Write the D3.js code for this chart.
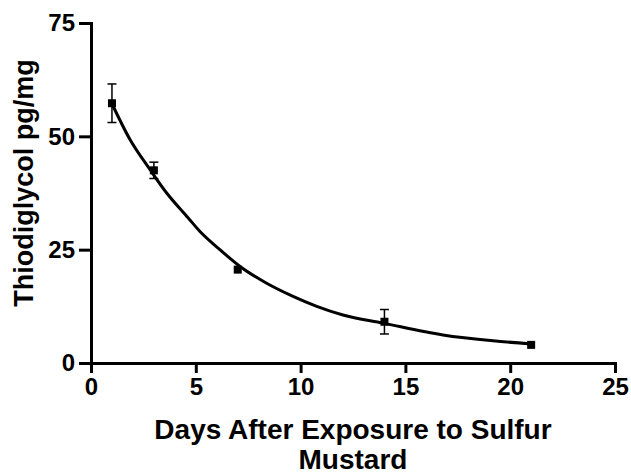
<!DOCTYPE html>
<html>
<head>
<meta charset="utf-8">
<script src="https://cdn.jsdelivr.net/npm/d3@7"></script>
<style>
  body { margin: 0; background: #fff; }
  svg text { font-family: "Liberation Sans", Arial, sans-serif; font-weight: bold; fill: #000; }
</style>
</head>
<body>
<div class="chart"></div>
<script>
// measured points (mean, sem)
let days = [1, 3, 7, 14, 21];
let means = [57.3, 42.5, 20.6, 9.1, 4.0];
let sems = [4.25, 1.8, 0.5, 2.7, 0];

// fitted decay curve
let fitX = [1, 1.86, 2.81, 3.61, 4.64, 5.2, 6.15, 7.11, 8.38, 9.64, 10.77, 12.02, 13.93, 16.79, 19.18, 21];
let fitY = [57.2, 49.3, 42.7, 37.5, 32.0, 29.0, 25.0, 21.3, 17.6, 14.7, 12.5, 10.6, 8.8, 6.2, 4.9, 4.2];

let xTicks = [0, 5, 10, 15, 20, 25];
let yTicks = [0, 25, 50, 75];

let width = 631;
let height = 476;
let margin = {top: 23, right: 16, bottom: 113, left: 91};

const svg = d3.select(".chart")
  .append("svg")
  .attr("width", width)
  .attr("height", height);

let x = d3.scaleLinear()
  .domain([0, 25])
  .range([margin.left, width - margin.right]);

let y = d3.scaleLinear()
  .domain([0, 75])
  .range([height - margin.bottom, margin.top]);

let xAxis = svg.append("g")
  .attr("transform", "translate(0," + y(0) + ")")
  .call(d3.axisBottom(x).tickValues(xTicks).tickSize(10).tickPadding(5).tickSizeOuter(0));

let yAxis = svg.append("g")
  .attr("transform", "translate(" + x(0) + ",0)")
  .call(d3.axisLeft(y).tickValues(yTicks).tickSize(12).tickPadding(4).tickSizeOuter(0));

[xAxis, yAxis].forEach(function (g) {
  g.select(".domain").attr("stroke-width", 3).attr("stroke-linecap", "square");
  g.selectAll(".tick line").attr("stroke-width", 3);
  g.selectAll(".tick text").style("font-size", "24px");
});

// fit line
let line = d3.line()
  .x(function (d) { return x(d[0]); })
  .y(function (d) { return y(d[1]); })
  .curve(d3.curveMonotoneX);

svg.append("path")
  .datum(d3.zip(fitX, fitY))
  .attr("d", line)
  .attr("fill", "none")
  .attr("stroke", "#000")
  .attr("stroke-width", 3);

let pts = days.map(function (d, i) { return {day: d, mean: means[i], sem: sems[i]}; });
let half = 4;
let cap = 4.5;

// error bars, skipped when they stay inside the symbol
let bars = svg.selectAll(".err")
  .data(pts.filter(function (d) { return y(d.mean) - y(d.mean + d.sem) > half; }))
  .enter()
  .append("g")
  .attr("stroke", "#000")
  .attr("stroke-width", 1.5);

bars.append("line")
  .attr("x1", function (d) { return x(d.day); })
  .attr("x2", function (d) { return x(d.day); })
  .attr("y1", function (d) { return y(d.mean + d.sem); })
  .attr("y2", function (d) { return y(d.mean - d.sem); });

bars.append("line")
  .attr("x1", function (d) { return x(d.day) - cap; })
  .attr("x2", function (d) { return x(d.day) + cap; })
  .attr("y1", function (d) { return y(d.mean + d.sem); })
  .attr("y2", function (d) { return y(d.mean + d.sem); });

bars.append("line")
  .attr("x1", function (d) { return x(d.day) - cap; })
  .attr("x2", function (d) { return x(d.day) + cap; })
  .attr("y1", function (d) { return y(d.mean - d.sem); })
  .attr("y2", function (d) { return y(d.mean - d.sem); });

svg.selectAll(".pt")
  .data(pts)
  .enter()
  .append("rect")
  .attr("x", function (d) { return x(d.day) - half; })
  .attr("y", function (d) { return y(d.mean) - half; })
  .attr("width", half * 2)
  .attr("height", half * 2)
  .attr("fill", "#000");

// axis titles
let xMid = (x(0) + x(25)) / 2;
let xt = svg.append("text")
  .attr("text-anchor", "middle")
  .style("font-size", "28px");
xt.append("tspan").attr("x", xMid).attr("y", 439).text("Days After Exposure to Sulfur");
xt.append("tspan").attr("x", xMid).attr("y", 469).text("Mustard");

svg.append("text")
  .attr("transform", "translate(33," + 183 + ") rotate(-90)")
  .attr("text-anchor", "middle")
  .style("font-size", "27px")
  .text("Thiodiglycol pg/mg");
</script>
</body>
</html>
